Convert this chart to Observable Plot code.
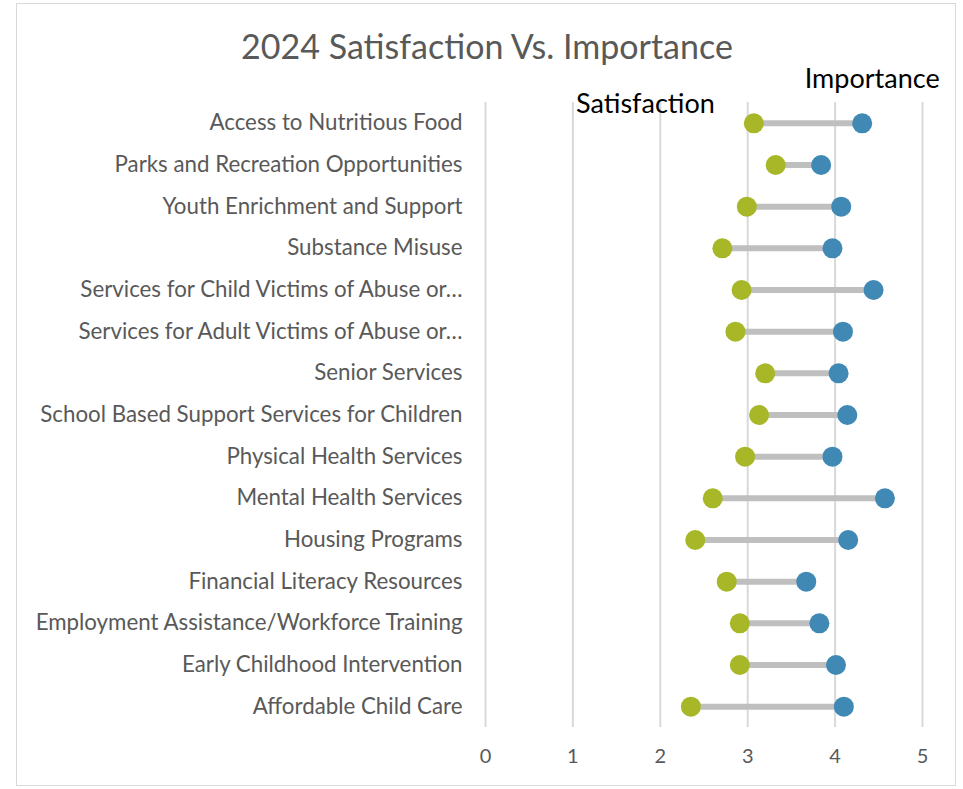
<!DOCTYPE html>
<html>
<head>
<meta charset="utf-8">
<script src="https://cdn.jsdelivr.net/npm/d3@7"></script>
<script src="https://cdn.jsdelivr.net/npm/@observablehq/plot@0.6"></script>
<style>
  html, body { margin: 0; padding: 0; background: #fff; }
  #wrap { position: relative; width: 963px; height: 789px; overflow: hidden; font-family: Lato, "Open Sans", sans-serif; }
  #frame { position: absolute; left: 16px; top: 3px; width: 940px; height: 783px; border: 1px solid #d9d9d9; box-sizing: border-box; }
  #title { position: absolute; left: 0; width: 974px; top: 25px; text-align: center; font-size: 34px; line-height: 42px; color: #595959; font-family: Lato, sans-serif; }
  #chart { position: absolute; left: 0; top: 0; }
</style>
</head>
<body>
<div id="wrap">
  <div id="frame"></div>
  <div id="title">2024 Satisfaction Vs. Importance</div>
  <div id="chart"></div>
</div>
<script>
const categories = [
  "Access to Nutritious Food",
  "Parks and Recreation Opportunities",
  "Youth Enrichment and Support",
  "Substance Misuse",
  "Services for Child Victims of Abuse or…",
  "Services for Adult Victims of Abuse or…",
  "Senior Services",
  "School Based Support Services for Children",
  "Physical Health Services",
  "Mental Health Services",
  "Housing Programs",
  "Financial Literacy Resources",
  "Employment Assistance/Workforce Training",
  "Early Childhood Intervention",
  "Affordable Child Care"
];
const satisfaction = [3.07, 3.32, 2.99, 2.71, 2.93, 2.86, 3.20, 3.13, 2.97, 2.60, 2.40, 2.76, 2.91, 2.91, 2.35];
const importance   = [4.31, 3.84, 4.07, 3.97, 4.44, 4.09, 4.04, 4.14, 3.97, 4.57, 4.15, 3.67, 3.82, 4.01, 4.10];
const xTicks = [0, 1, 2, 3, 4, 5];

const rows = categories.map((c, i) => ({cat: c, sat: satisfaction[i], imp: importance[i]}));

const chart = Plot.plot({
  width: 963,
  height: 789,
  marginLeft: 485,
  marginRight: 41,
  marginTop: 102,
  marginBottom: 62,
  style: {fontFamily: "Lato, 'Open Sans', sans-serif", background: "transparent", overflow: "visible"},
  x: {domain: [0, 5], ticks: xTicks, tickSize: 0, label: null},
  y: {type: "point", domain: categories, padding: 0.5, round: false, label: null},
  marks: [
    Plot.ruleX(xTicks, {stroke: "#d9d9d9", strokeWidth: 2}),
    Plot.axisX({ticks: xTicks, tickSize: 0, tickPadding: 21, fontSize: 20, fill: "#595959", label: null, tickFormat: d => String(d)}),
    Plot.axisY({tickSize: 0, tickPadding: 23, fontSize: 22.3, fill: "#595959", label: null}),
    Plot.link(rows, {x1: "sat", x2: "imp", y1: "cat", y2: "cat", stroke: "#bfbfbf", strokeWidth: 6}),
    Plot.dot(rows, {x: "sat", y: "cat", r: 10, fill: "#a7b727"}),
    Plot.dot(rows, {x: "imp", y: "cat", r: 10, fill: "#3f89b4"}),
    Plot.text([rows[0]], {x: "imp", y: "cat", text: () => "Importance", dx: 10, dy: -44, fontSize: 27, fill: "#000", textAnchor: "middle"}),
    Plot.text([rows[0]], {x: "sat", y: "cat", text: () => "Satisfaction", dx: -39, dy: -19, fontSize: 27, fill: "#000", textAnchor: "end"})
  ]
});
document.getElementById("chart").appendChild(chart);
</script>
</body>
</html>
